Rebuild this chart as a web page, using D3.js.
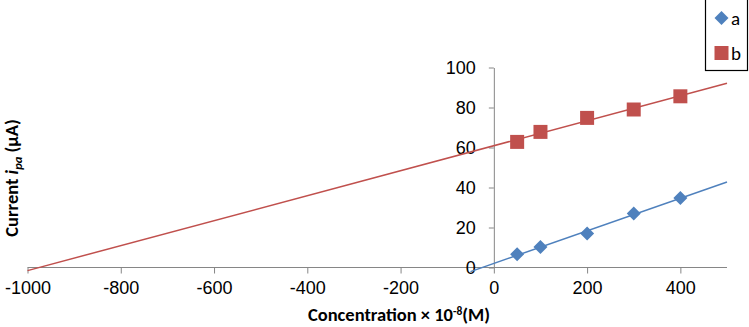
<!DOCTYPE html>
<html>
<head>
<meta charset="utf-8">
<script src="https://cdn.jsdelivr.net/npm/d3@7"></script>
<style>
  html, body { margin: 0; padding: 0; background: #fff; }
  svg { display: block; font-family: Carlito, Calibri, "Liberation Sans", Arial, sans-serif; }
  .axis text { font-size: 18px; fill: #000; }
  .axis path, .axis line { stroke: #868686; }
</style>
</head>
<body>
<svg id="chart" width="749" height="327"></svg>
<script>
// concentration (x 10^-8 M)
const concentration = [50, 100, 200, 300, 400];
// peak anodic current (uA)
const seriesA = [6.6, 10.3, 17, 27, 34.8];
const seriesB = [62.8, 67.8, 74.8, 79, 85.6];
const seriesNames = ["a", "b"];
const seriesColors = ["#4F81BD", "#C0504D"];
// trendline extent (forward / backward forecast)
const trendRangeA = [-50, 500];
const trendRangeB = [-1000, 500];
const xTicks = [-1000, -800, -600, -400, -200, 0, 200, 400];
const yTicks = [0, 20, 40, 60, 80, 100];

const width = 749, height = 327;
const svg = d3.select("#chart");

const x = d3.scaleLinear().domain([-1000, 500]).range([27.5, 727]);
const y = d3.scaleLinear().domain([0, 100]).range([267.5, 67.5]);

// least squares fit, like an Excel linear trendline
function fit(xs, ys) {
	const mx = d3.mean(xs), my = d3.mean(ys);
	let sxy = 0, sxx = 0;
	xs.forEach(function (v, i) {
		sxy += (v - mx) * (ys[i] - my);
		sxx += (v - mx) * (v - mx);
	});
	const slope = sxy / sxx;
	return { slope: slope, intercept: my - slope * mx };
}

// axes
const xAxis = svg.append("g")
	.attr("class", "axis")
	.attr("transform", "translate(0," + y(0) + ")")
	.call(d3.axisBottom(x).tickValues(xTicks).tickFormat(d => String(d))
		.tickSize(6).tickSizeOuter(0).tickPadding(8));
xAxis.select(".domain").attr("d", "M" + x(-1000) + ",0H" + x(500));

const yAxis = svg.append("g")
	.attr("class", "axis")
	.attr("transform", "translate(" + x(0) + ",0)")
	.call(d3.axisLeft(y).tickValues(yTicks).tickFormat(d => String(d))
		.tickSize(5).tickSizeOuter(0).tickPadding(13));

// trendlines
const series = [
	{ name: seriesNames[0], values: seriesA, color: seriesColors[0], range: trendRangeA, shape: "diamond" },
	{ name: seriesNames[1], values: seriesB, color: seriesColors[1], range: trendRangeB, shape: "square" }
];

series.forEach(function (s) {
	const f = fit(concentration, s.values);
	const pts = s.range.map(v => [v, f.intercept + f.slope * v]);
	svg.append("path")
		.attr("d", d3.line().x(d => x(d[0])).y(d => y(d[1]))(pts))
		.attr("fill", "none")
		.attr("stroke", s.color)
		.attr("stroke-width", 1.5);
});

const diamond = d3.symbol().type(d3.symbolSquare).size(98);
const square = d3.symbol().type(d3.symbolSquare).size(196);

function marker(sel, shape) {
	if (shape === "diamond") {
		sel.attr("d", diamond()).attr("transform", function () {
			return d3.select(this).attr("transform") + " rotate(45)";
		});
	} else {
		sel.attr("d", square());
	}
}

series.forEach(function (s) {
	svg.append("g").selectAll("path")
		.data(s.values.map((v, i) => [concentration[i], v]))
		.join("path")
		.attr("transform", d => "translate(" + x(d[0]) + "," + y(d[1]) + ")")
		.attr("fill", s.color)
		.call(marker, s.shape);
});

// legend
const legend = svg.append("g");
legend.append("rect")
	.attr("x", 705.5).attr("y", -1)
	.attr("width", 42).attr("height", 71.5)
	.attr("fill", "#fff").attr("stroke", "#000").attr("stroke-width", 1.2);
const legendY = [18, 53];
series.forEach(function (s, i) {
	legend.append("path")
		.attr("transform", "translate(721.5," + legendY[i] + ")")
		.attr("fill", s.color)
		.call(marker, s.shape);
	legend.append("text")
		.attr("x", 731).attr("y", legendY[i]).attr("dy", "0.36em")
		.style("font-size", "19px")
		.text(s.name);
});

// axis titles
const xt = svg.append("text")
	.attr("x", 399).attr("y", 321)
	.attr("text-anchor", "middle")
	.style("font-size", "18.5px").style("font-weight", "bold");
xt.append("tspan").text("Concentration \u00d7 10");
xt.append("tspan").attr("dy", -6).style("font-size", "11.5px").text("-8");
xt.append("tspan").attr("dy", 6).text("(M)");

const yt = svg.append("text")
	.attr("transform", "translate(18,178) rotate(-90)")
	.attr("text-anchor", "middle")
	.style("font-size", "18.5px").style("font-weight", "bold");
yt.append("tspan").text("Current ");
yt.append("tspan").style("font-style", "italic").text("i");
yt.append("tspan").attr("dy", 4).style("font-style", "italic").style("font-size", "12.5px").text("pa");
yt.append("tspan").attr("dy", -4).text(" (\u00b5A)");
</script>
</body>
</html>
